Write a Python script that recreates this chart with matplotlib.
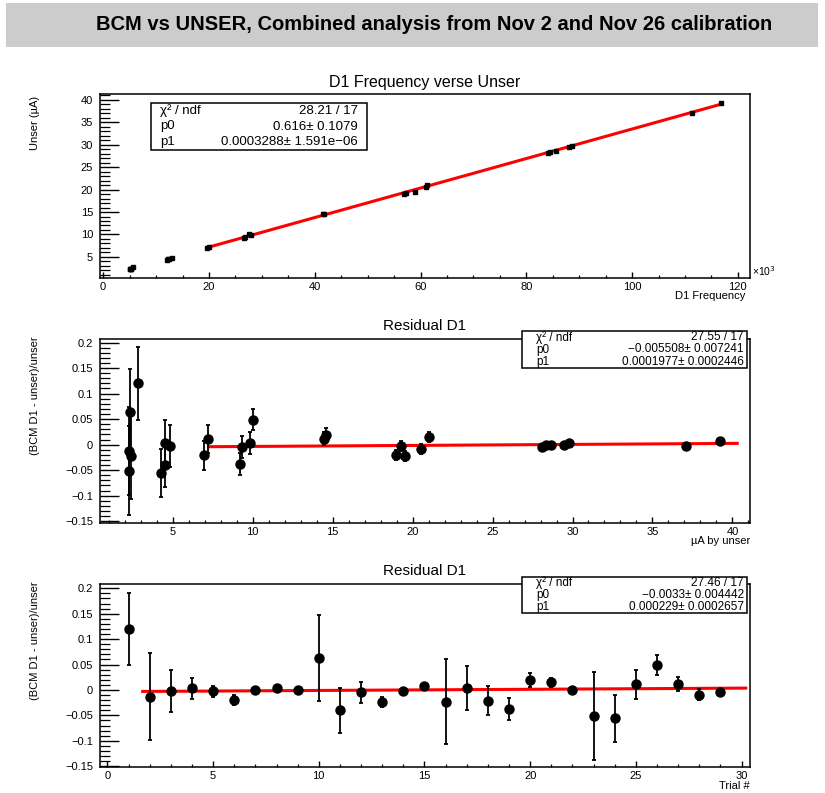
import numpy as np
import matplotlib.pyplot as plt
from matplotlib.patches import Rectangle
from matplotlib.ticker import MultipleLocator

plt.rcParams['font.family'] = ['Liberation Sans', 'DejaVu Sans']

# data in trial order
trial = [1, 2, 3, 4, 5, 6, 7, 8, 9, 10, 11, 12, 13, 14, 15,
         16, 17, 18, 19, 20, 21, 22, 23, 24, 25, 26, 27, 28, 29]
unser = [2.81, 2.29, 4.85, 9.81, 19.27, 18.94, 28.37, 29.81, 29.48, 2.35,
         4.50, 9.33, 19.50, 37.10, 39.20, 2.37, 4.52, 6.98, 9.23, 14.58,
         21.04, 28.64, 2.29, 4.25, 7.23, 10.04, 14.46, 20.50, 28.10]
unser_err = [0.15, 0.15, 0.15, 0.15, 0.15, 0.15, 0.15, 0.15, 0.15, 0.15,
             0.15, 0.35, 0.15, 0.15, 0.15, 0.15, 0.15, 0.15, 0.15, 0.15,
             0.35, 0.15, 0.15, 0.15, 0.15, 0.15, 0.15, 0.35, 0.15]
freq_k = [5.6, 5.1, 13.0, 28.0, 57.2, 56.8, 84.5, 88.6, 88.1, 5.2,
          12.2, 26.8, 58.9, 111.4, 116.8, 5.3, 12.5, 19.6, 26.6, 41.8,
          61.3, 85.6, 5.0, 12.0, 20.0, 27.5, 41.5, 61.1, 84.2]
resid = [0.120, -0.013, -0.002, 0.003, -0.003, -0.020, 0.000, 0.004, -0.001, 0.063,
         -0.040, -0.005, -0.023, -0.002, 0.008, -0.023, 0.004, -0.021, -0.038, 0.019,
         0.015, -0.001, -0.051, -0.056, 0.011, 0.049, 0.012, -0.009, -0.004]
resid_err = [0.071, 0.086, 0.041, 0.021, 0.010, 0.010, 0.003, 0.003, 0.003, 0.085,
             0.044, 0.021, 0.010, 0.002, 0.002, 0.083, 0.044, 0.028, 0.022, 0.0135,
             0.009, 0.003, 0.087, 0.047, 0.028, 0.020, 0.0137, 0.010, 0.004]

# fit results
fit1 = (0.616, 0.0003288 * 1e3)   # x in units of 10^3
fit1_range = (20.0, 116.8)
fit2 = (-0.005508, 0.0001977)
fit2_range = (7.23, 40.3)
fit3 = (-0.0033, 0.000229)
fit3_range = (1.67, 30.2)

stats1 = [("χ² / ndf", "28.21 / 17"), ("p0", "0.616± 0.1079"),
          ("p1", "0.0003288± 1.591e−06")]
stats2 = [("χ² / ndf", "27.55 / 17"), ("p0", "−0.005508± 0.007241"),
          ("p1", "0.0001977± 0.0002446")]
stats3 = [("χ² / ndf", "27.46 / 17"), ("p0", "−0.0033± 0.004442"),
          ("p1", "0.000229± 0.0002657")]

resid_ticks = [-0.15, -0.1, -0.05, 0, 0.05, 0.1, 0.15, 0.2]
resid_labels = ["−0.15", "−0.1", "−0.05", "0", "0.05", "0.1", "0.15", "0.2"]

W, H = 825, 793
fig = plt.figure(figsize=(W / 100, H / 100), dpi=100)


def fx(px):
    return px / W


def fy(py):
    return 1 - py / H


def make_axes(top, bottom):
    ax = fig.add_axes([fx(100), fy(bottom), fx(750) - fx(100), fy(top) - fy(bottom)])
    for s in ax.spines.values():
        s.set_linewidth(1.1)
    ax.tick_params(axis='y', which='major', direction='in', length=13.5, width=1.0, labelsize=8, pad=5)
    ax.tick_params(axis='y', which='minor', direction='in', length=7, width=0.9)
    ax.tick_params(axis='x', which='major', direction='in', length=4, width=1.0, labelsize=8, pad=3)
    ax.tick_params(axis='x', which='minor', direction='in', length=2, width=0.9)
    ax.tick_params(top=False, right=False, which='both')
    return ax


def stat_box(x0, y0, x1, y1, rows, fs, lpad, rpad):
    fig.patches.append(Rectangle((fx(x0), fy(y1)), fx(x1) - fx(x0), fy(y0) - fy(y1),
                                 transform=fig.transFigure, facecolor='white',
                                 edgecolor='black', linewidth=1.1, zorder=5))
    n = len(rows)
    h = (y1 - y0) / n
    for i, (a, b) in enumerate(rows):
        yc = y0 + h * (i + 0.5)
        fig.text(fx(x0 + lpad), fy(yc), a, fontsize=fs, ha='left', va='center', zorder=6)
        fig.text(fx(x1 - rpad), fy(yc), b, fontsize=fs, ha='right', va='center', zorder=6)


# header banner
fig.patches.append(Rectangle((fx(6), fy(47)), fx(818) - fx(6), fy(3) - fy(47),
                             transform=fig.transFigure, facecolor='#cccccc',
                             edgecolor='none', zorder=0))
fig.text(fx(434), fy(25), "BCM vs UNSER, Combined analysis from Nov 2 and Nov 26 calibration",
         fontsize=14.5, fontweight='bold', ha='center', va='center')

# panel 1
ax1 = make_axes(94, 278)
ax1.errorbar(freq_k, unser, yerr=unser_err, fmt='s', color='black', ms=2.8,
             elinewidth=1.0, capsize=0, zorder=3)
xf = np.linspace(*fit1_range, 50)
ax1.plot(xf, fit1[0] + fit1[1] * xf, color='red', lw=2.2, zorder=2)
ax1.set_xlim(-0.6, 122.3)
ax1.set_ylim(0.3, 41.3)
ax1.xaxis.set_major_locator(MultipleLocator(20))
ax1.xaxis.set_minor_locator(MultipleLocator(5))
ax1.yaxis.set_minor_locator(MultipleLocator(1))
ax1.set_yticks([5, 10, 15, 20, 25, 30, 35, 40])
fig.text(0.5151, fy(82), "D1 Frequency verse Unser", fontsize=11.5, ha='center', va='center')
fig.text(fx(745), fy(296), "D1 Frequency", fontsize=8, ha='right', va='center')
fig.text(fx(752), fy(271), "×10$^3$", fontsize=7.5, ha='left', va='center')
fig.text(fx(35), fy(96), "Unser (µA)", fontsize=8, rotation=90, ha='center', va='top')
stat_box(151, 103, 367, 150, stats1, 9.5, 9, 9)

# panel 2
ax2 = make_axes(339, 522.7)
ax2.errorbar(unser, resid, yerr=resid_err, fmt='o', color='black', ms=6.5,
             elinewidth=1.3, capsize=1.5, capthick=1.3, zorder=3)
xf = np.linspace(*fit2_range, 50)
ax2.plot(xf, fit2[0] + fit2[1] * xf, color='red', lw=2.2, zorder=2)
ax2.set_xlim(0.45, 41.1)
ax2.set_ylim(-0.153, 0.207)
ax2.xaxis.set_minor_locator(MultipleLocator(1))
ax2.set_xticks([5, 10, 15, 20, 25, 30, 35, 40])
ax2.set_yticks(resid_ticks)
ax2.set_yticklabels(resid_labels)
ax2.yaxis.set_minor_locator(MultipleLocator(0.01))
fig.text(0.5151, fy(326), "Residual D1", fontsize=11, ha='center', va='center')
fig.text(fx(750), fy(541), "µA by unser", fontsize=8, ha='right', va='center')
fig.text(fx(35), fy(336), "(BCM D1 - unser)/unser", fontsize=8, rotation=90, ha='center', va='top')
stat_box(522, 331, 747, 368, stats2, 8.5, 14, 3)

# panel 3
ax3 = make_axes(584, 766.7)
ax3.errorbar(trial, resid, yerr=resid_err, fmt='o', color='black', ms=6.5,
             elinewidth=1.3, capsize=1.5, capthick=1.3, zorder=3)
xf = np.linspace(*fit3_range, 50)
ax3.plot(xf, fit3[0] + fit3[1] * xf, color='red', lw=2.2, zorder=2)
ax3.set_xlim(-0.35, 30.4)
ax3.set_ylim(-0.151, 0.2084)
ax3.xaxis.set_major_locator(MultipleLocator(5))
ax3.xaxis.set_minor_locator(MultipleLocator(1))
ax3.set_yticks(resid_ticks)
ax3.set_yticklabels(resid_labels)
ax3.yaxis.set_minor_locator(MultipleLocator(0.01))
fig.text(0.5151, fy(571), "Residual D1", fontsize=11, ha='center', va='center')
fig.text(fx(750), fy(786), "Trial #", fontsize=8, ha='right', va='center')
fig.text(fx(35), fy(581), "(BCM D1 - unser)/unser", fontsize=8, rotation=90, ha='center', va='top')
stat_box(522, 577, 747, 613, stats3, 8.5, 14, 3)

fig.savefig("out.png", dpi=100)
